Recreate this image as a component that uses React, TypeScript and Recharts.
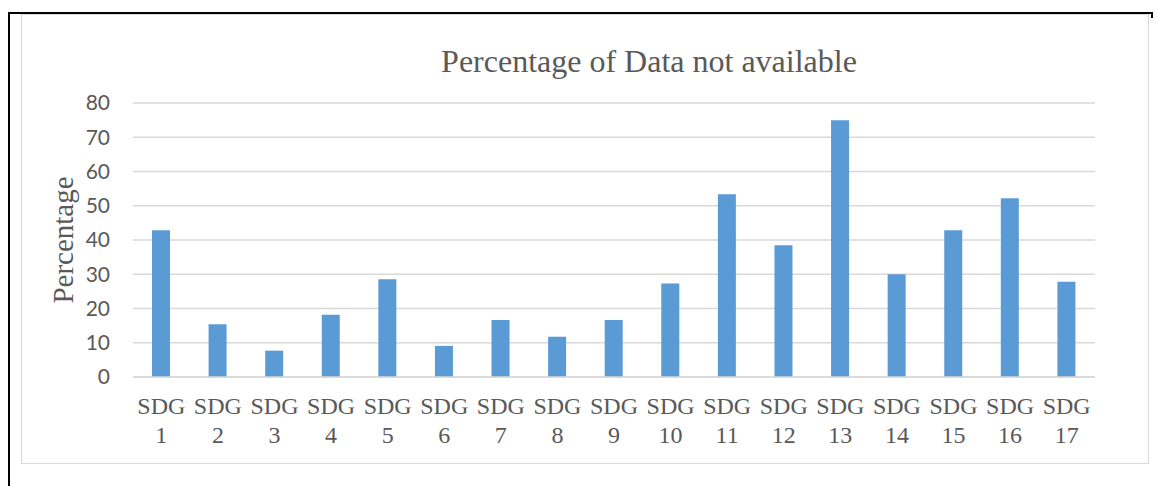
import { Bar, BarChart, CartesianGrid, XAxis, YAxis } from "recharts";

const CATEGORIES = [
  "SDG 1", "SDG 2", "SDG 3", "SDG 4", "SDG 5", "SDG 6", "SDG 7", "SDG 8", "SDG 9",
  "SDG 10", "SDG 11", "SDG 12", "SDG 13", "SDG 14", "SDG 15", "SDG 16", "SDG 17",
];
const MISSING_PCT = [
  42.86, 15.38, 7.69, 18.18, 28.57, 9.09, 16.67, 11.76, 16.67,
  27.27, 53.33, 38.46, 75.0, 30.0, 42.86, 52.17, 27.78,
];
const Y_TICKS = [0, 10, 20, 30, 40, 50, 60, 70, 80];

const TEXT_GREY = "#595959";
const GRID_GREY = "#d9d9d9";
const BAR_BLUE = "#5b9bd5";
const SERIF = '"Liberation Serif", "Times New Roman", serif';

const data = CATEGORIES.map((name, i) => ({ name, value: MISSING_PCT[i] }));

// "SDG" on one line, the number underneath, like the original two-line labels
function SdgTick({ x, y, payload }: any) {
  const [word, num] = String(payload.value).split(" ");
  return (
    <text x={x} y={y} textAnchor="middle" fill={TEXT_GREY} fontFamily={SERIF} fontSize={24}>
      <tspan x={x} dy={37}>{word}</tspan>
      <tspan x={x} dy={29}>{num}</tspan>
    </text>
  );
}

export default function App() {
  return (
    <div style={{ position: "absolute", left: 0, top: 0, width: 1156, height: 486, background: "#fff" }}>
      {/* outer black frame (top + left) */}
      <div style={{ position: "absolute", left: 8, top: 12, width: 1145, height: 2, background: "#000" }} />
      <div style={{ position: "absolute", left: 8, top: 12, width: 2, height: 474, background: "#000" }} />
      <div style={{ position: "absolute", left: 1151, top: 12, width: 2, height: 6, background: "#000" }} />
      {/* light chart-area border */}
      <div
        style={{
          position: "absolute",
          left: 21,
          top: 14,
          width: 1126,
          height: 448,
          border: "1.5px solid #d9d9d9",
        }}
      />

      <div style={{ position: "absolute", left: 0, top: 0 }}>
        <BarChart
          width={1156}
          height={486}
          data={data}
          margin={{ top: 103, right: 61, left: 73, bottom: 39 }}
          barSize={18}
        >
          <CartesianGrid vertical={false} stroke={GRID_GREY} strokeWidth={1.5} />
          <XAxis
            dataKey="name"
            interval={0}
            height={70}
            tickLine={false}
            tickSize={0}
            tickMargin={0}
            axisLine={{ stroke: GRID_GREY, strokeWidth: 1.5 }}
            tick={<SdgTick />}
          />
          <YAxis
            domain={[0, 80]}
            ticks={Y_TICKS}
            width={60}
            axisLine={false}
            tickLine={false}
            tickSize={0}
            tickMargin={23}
            tick={{ fill: TEXT_GREY, fontFamily: "Lato, sans-serif", fontSize: 21 }}
          />
          <Bar dataKey="value" fill={BAR_BLUE} isAnimationActive={false} />
        </BarChart>
      </div>

      <svg
        width={1156}
        height={486}
        style={{ position: "absolute", left: 0, top: 0, pointerEvents: "none" }}
      >
        <text x={649} y={72} textAnchor="middle" fill={TEXT_GREY} fontFamily={SERIF} fontSize={32}>
          Percentage of Data not available
        </text>
        <text
          x={63}
          y={240}
          transform="rotate(-90 63 240)"
          textAnchor="middle"
          dominantBaseline="central"
          fill={TEXT_GREY}
          fontFamily={SERIF}
          fontSize={29}
        >
          Percentage
        </text>
      </svg>
    </div>
  );
}
